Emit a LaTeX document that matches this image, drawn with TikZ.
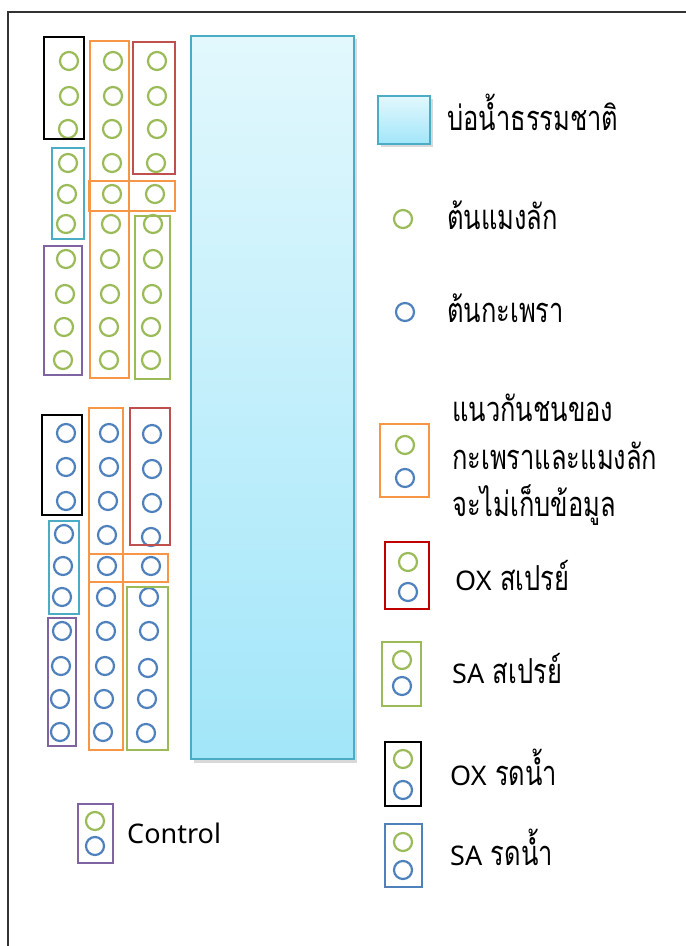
\documentclass[tikz,border=0pt]{standalone}
\usepackage{graphicx}
\usepackage{fontspec}
\setmainfont[Script=Thai]{Loma}
\newfontfamily\latinf{Noto Sans}
\newcommand\latword[1]{{\latinf\fontsize{27}{47}\selectfont #1}}
\newcommand\thaitxt[1]{\scalebox{1}[1.35]{#1}}
\definecolor{cgreen}{HTML}{9BBB59}
\definecolor{cblue}{HTML}{4F81BD}
\definecolor{corange}{HTML}{F79646}
\definecolor{cred}{HTML}{C0504D}
\definecolor{clred}{HTML}{C00000}
\definecolor{ccyan}{HTML}{4BACC6}
\definecolor{cpurple}{HTML}{8064A2}
\definecolor{pondtop}{HTML}{E2F8FD}
\definecolor{pondbot}{HTML}{A2E6F9}
\definecolor{framec}{HTML}{333333}
\tikzset{
  gplant/.style={circle,draw=cgreen,line width=2.2pt,minimum size=18pt,inner sep=0pt},
  bplant/.style={circle,draw=cblue,line width=2.2pt,minimum size=18pt,inner sep=0pt},
  plotbox/.style={line width=2.6pt},
  legtext/.style={anchor=base west,inner sep=0pt,font=\fontsize{25.5}{47.5}\selectfont},
  pondstyle/.style={draw=ccyan,line width=1.5pt,top color=pondtop,bottom color=pondbot},
}
\begin{document}
\begin{tikzpicture}[x=1pt,y=-1pt]
\useasboundingbox (0,0) rectangle (686,946);
\fill[white] (0,0) rectangle (686,946);
% frame
\draw[framec,line width=1.5pt] (8,946) -- (8,12) -- (686,12);
% pond with shadow
\fill[black,opacity=0.15] (194,39) rectangle (357,763);
\shade[pondstyle] (191,36) rectangle (354,759);
% ---- top section (green plants)
\foreach \x/\y [count=\i] in {69/61,69/96,68/129,113/61,113/96,112/129,112/163,112/194,111/224,110/259,110/294,109/327,109/360,157/61,157/96,157/129,156/163,155/194,68/163,67/194,66/224,153/224,153/259,152/294,151/327,151/360,66/259,65/294,64/327,63/360}
  \node[gplant] (g\i) at (\x,\y) {};
\draw[plotbox,black] (44,37) rectangle (84,139);
\draw[plotbox,corange] (90,41) rectangle (129,378);
\draw[plotbox,cred] (133,42) rectangle (175,174);
\draw[plotbox,corange] (89,181) rectangle (175,211);
\draw[plotbox,ccyan] (52,148) rectangle (84,239);
\draw[plotbox,cgreen] (135,216) rectangle (170,379);
\draw[plotbox,cpurple] (44,246) rectangle (82,375);
% ---- bottom section (blue plants)
\foreach \x/\y [count=\i] in {66/433,66/467,66/501,109/433,109/467,108/501,107/535,107/566,106/597,106/631,105/666,104/699,103/732,152/434,152/469,152/503,151/537,151/566,64/534,63/566,62/597,149/597,149/631,148/668,147/699,146/733,62/631,61/666,60/699,60/732}
  \node[bplant] (b\i) at (\x,\y) {};
\draw[plotbox,black] (42,415) rectangle (82,515);
\draw[plotbox,corange] (89,408) rectangle (123,750);
\draw[plotbox,cred] (130,408) rectangle (170,545);
\draw[plotbox,corange] (89,554) rectangle (168,582);
\draw[plotbox,ccyan] (49,521) rectangle (79,614);
\draw[plotbox,cgreen] (127,587) rectangle (168,750);
\draw[plotbox,cpurple] (48,618) rectangle (76,746);
% ---- control legend
\node[gplant] (cg) at (95,821) {};
\node[bplant] (cb) at (95,846) {};
\draw[plotbox,cpurple] (78,804) rectangle (113,863);
\node[legtext] (ctl) at (127,843) {\latword{Control}};
% ---- legend
\fill[black,opacity=0.15] (381,99) rectangle (433,147);
\shade[pondstyle] (378,96) rectangle (430,144);
\node[legtext] (lpond) at (447,130) {\thaitxt{บ่อน้ำธรรมชาติ}};
\node[gplant] (lg) at (403,219) {};
\node[legtext] (lgt) at (447,229) {\thaitxt{ต้นแมงลัก}};
\node[bplant] (lb) at (405,312) {};
\node[legtext] (lbt) at (447,322) {\thaitxt{ต้นกะเพรา}};
% buffer
\node[gplant] (l1g) at (405,445) {};
\node[bplant] (l1b) at (405,478) {};
\draw[plotbox,corange] (380,424) rectangle (429,497);
\node[legtext,align=left,anchor=west] (l1t) at (452,460) {\thaitxt{แนวกันชนของ}\\\thaitxt{กะเพราและแมงลัก}\\\thaitxt{จะไม่เก็บข้อมูล}};
% OX spray
\node[gplant] (l2g) at (408,562) {};
\node[bplant] (l2b) at (408,592) {};
\draw[plotbox,clred] (385,542) rectangle (429,609);
\node[legtext] (l2t) at (455,590) {\latword{OX} \thaitxt{สเปรย์}};
% SA spray
\node[gplant] (l3g) at (402,660) {};
\node[bplant] (l3b) at (402,686) {};
\draw[plotbox,cgreen] (382,642) rectangle (421,706);
\node[legtext] (l3t) at (452,683) {\latword{SA} \thaitxt{สเปรย์}};
% OX water
\node[gplant] (l4g) at (403,759) {};
\node[bplant] (l4b) at (403,790) {};
\draw[plotbox,black] (385,742) rectangle (421,806);
\node[legtext] (l4t) at (450,785) {\latword{OX} \thaitxt{รดน้ำ}};
% SA water
\node[gplant] (l5g) at (403,842) {};
\node[bplant] (l5b) at (403,870) {};
\draw[plotbox,cblue] (385,824) rectangle (422,887);
\node[legtext] (l5t) at (450,865) {\latword{SA} \thaitxt{รดน้ำ}};
\end{tikzpicture}
\end{document}
